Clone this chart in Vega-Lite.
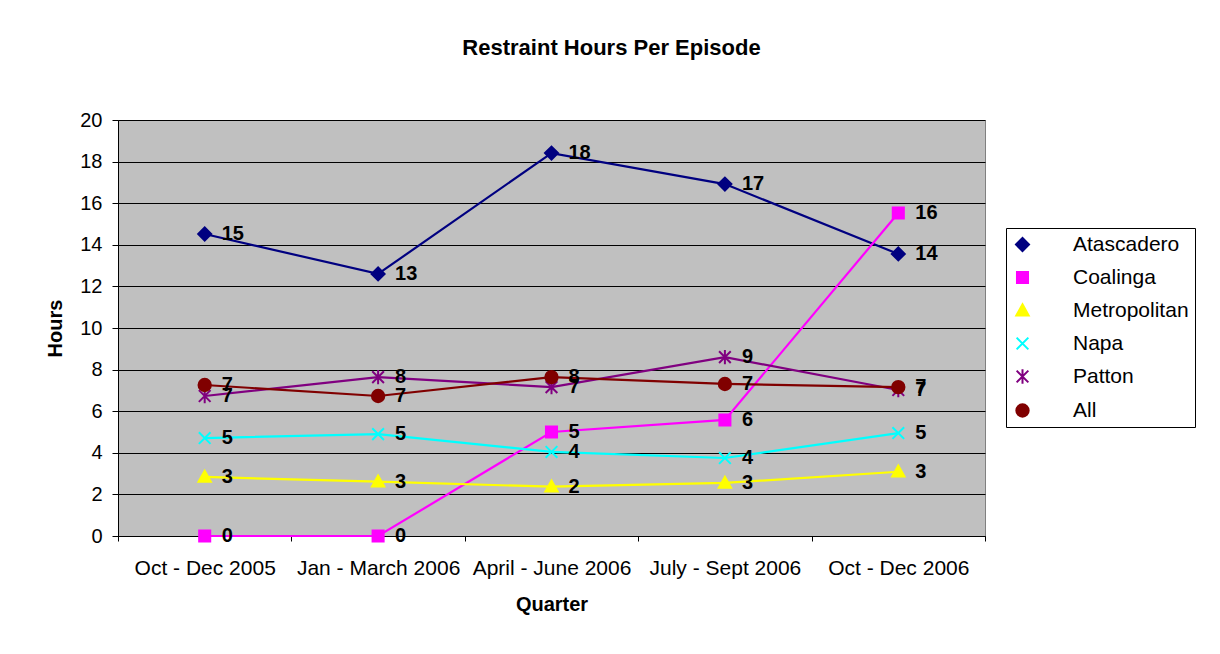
{
  "$schema": "https://vega.github.io/schema/vega-lite/v6.json",
  "autosize": "none",
  "width": 867,
  "height": 416,
  "padding": {"left": 118, "top": 120, "right": 235, "bottom": 118},
  "background": "white",
  "title": {
    "text": "Restraint Hours Per Episode",
    "fontSize": 22,
    "fontWeight": "bold",
    "font": "Liberation Sans",
    "color": "black",
    "anchor": "middle",
    "frame": "group",
    "dx": 60,
    "offset": 50
  },
  "config": {
    "font": "Liberation Sans",
    "view": {"fill": "#C0C0C0", "stroke": "#808080", "strokeWidth": 1}
  },
  "data": {
    "values": [
      {"quarter": "Oct - Dec 2005", "series": "Atascadero", "hours": 14.52},
      {"quarter": "Jan - March 2006", "series": "Atascadero", "hours": 12.6},
      {"quarter": "April - June 2006", "series": "Atascadero", "hours": 18.41},
      {"quarter": "July - Sept 2006", "series": "Atascadero", "hours": 16.92},
      {"quarter": "Oct - Dec 2006", "series": "Atascadero", "hours": 13.56},
      {"quarter": "Oct - Dec 2005", "series": "Coalinga", "hours": 0},
      {"quarter": "Jan - March 2006", "series": "Coalinga", "hours": 0},
      {"quarter": "April - June 2006", "series": "Coalinga", "hours": 5.0},
      {"quarter": "July - Sept 2006", "series": "Coalinga", "hours": 5.58},
      {"quarter": "Oct - Dec 2006", "series": "Coalinga", "hours": 15.53},
      {"quarter": "Oct - Dec 2005", "series": "Metropolitan", "hours": 2.84},
      {"quarter": "Jan - March 2006", "series": "Metropolitan", "hours": 2.61},
      {"quarter": "April - June 2006", "series": "Metropolitan", "hours": 2.37},
      {"quarter": "July - Sept 2006", "series": "Metropolitan", "hours": 2.55},
      {"quarter": "Oct - Dec 2006", "series": "Metropolitan", "hours": 3.09},
      {"quarter": "Oct - Dec 2005", "series": "Napa", "hours": 4.71},
      {"quarter": "Jan - March 2006", "series": "Napa", "hours": 4.9},
      {"quarter": "April - June 2006", "series": "Napa", "hours": 4.04},
      {"quarter": "July - Sept 2006", "series": "Napa", "hours": 3.75},
      {"quarter": "Oct - Dec 2006", "series": "Napa", "hours": 4.95},
      {"quarter": "Oct - Dec 2005", "series": "Patton", "hours": 6.73},
      {"quarter": "Jan - March 2006", "series": "Patton", "hours": 7.64},
      {"quarter": "April - June 2006", "series": "Patton", "hours": 7.16},
      {"quarter": "July - Sept 2006", "series": "Patton", "hours": 8.6},
      {"quarter": "Oct - Dec 2006", "series": "Patton", "hours": 7.02},
      {"quarter": "Oct - Dec 2005", "series": "All", "hours": 7.26},
      {"quarter": "Jan - March 2006", "series": "All", "hours": 6.73},
      {"quarter": "April - June 2006", "series": "All", "hours": 7.64},
      {"quarter": "July - Sept 2006", "series": "All", "hours": 7.31},
      {"quarter": "Oct - Dec 2006", "series": "All", "hours": 7.16}
    ]
  },
  "encoding": {
    "x": {
      "field": "quarter",
      "type": "nominal",
      "sort": null,
      "scale": {
        "type": "band",
        "domain": ["Oct - Dec 2005", "Jan - March 2006", "April - June 2006", "July - Sept 2006", "Oct - Dec 2006"],
        "paddingInner": 0,
        "paddingOuter": 0
      },
      "axis": {
        "title": "Quarter",
        "titleFontSize": 20,
        "titleFontWeight": "bold",
        "titleColor": "black",
        "titlePadding": 16,
        "labelAngle": 0,
        "labelFontSize": 21,
        "labelColor": "black",
        "labelPadding": 16,
        "tickBand": "extent",
        "tickSize": 5,
        "tickColor": "black",
        "domainColor": "black",
        "grid": false
      }
    },
    "y": {
      "field": "hours",
      "type": "quantitative",
      "scale": {"domain": [0, 20], "nice": false},
      "axis": {
        "title": "Hours",
        "titleFontSize": 20,
        "titleFontWeight": "bold",
        "titleColor": "black",
        "titlePadding": 14,
        "values": [0, 2, 4, 6, 8, 10, 12, 14, 16, 18, 20],
        "labelFontSize": 20,
        "labelColor": "black",
        "labelPadding": 10,
        "tickSize": 6,
        "tickColor": "black",
        "domainColor": "black",
        "grid": true,
        "gridColor": "black",
        "gridWidth": 1
      }
    },
    "color": {
      "field": "series",
      "type": "nominal",
      "scale": {
        "domain": ["Atascadero", "Coalinga", "Metropolitan", "Napa", "Patton", "All"],
        "range": ["#000080", "#FF00FF", "#FFFF00", "#00FFFF", "#800080", "#800000"]
      },
      "legend": {
        "title": null,
        "orient": "none",
        "legendX": 888,
        "legendY": 108,
        "padding": 6,
        "strokeColor": "black",
        "fillColor": "white",
        "labelFontSize": 21,
        "labelColor": "black",
        "labelFont": "Liberation Sans",
        "rowPadding": 11,
        "labelOffset": 40,
        "symbolSize": 169,
        "symbolStrokeWidth": 2,
        "symbolOpacity": 1,
        "encode": {
          "symbols": {
            "update": {
              "shape": {"signal": "({'Atascadero':'M-1.54,0H7.08M1.77,0L2.77,-1L3.77,0L2.77,1Z','Coalinga':'M-1.54,0H7.08M1.92,-0.85H3.62V0.85H1.92Z','Metropolitan':'M-1.54,0H7.08M2.77,-0.95L3.72,0.75L1.82,0.75Z','Napa':'M-1.54,0H7.08M1.87,-0.9L3.67,0.9M1.87,0.9L3.67,-0.9','Patton':'M-1.54,0H7.08M1.87,-0.9L3.67,0.9M1.87,0.9L3.67,-0.9M2.77,-1.1V1.1','All':'M-1.54,0H7.08M3.72,0A0.95,0.95,0,1,1,1.82,0A0.95,0.95,0,1,1,3.72,0Z'})[datum.value]"}
            }
          }
        }
      }
    }
  },
  "layer": [
    {
      "mark": {"type": "line", "strokeWidth": 2.2}
    },
    {
      "mark": {"type": "point", "filled": true, "size": 169, "strokeWidth": 2, "opacity": 1},
      "encoding": {
        "stroke": {
          "field": "series",
          "type": "nominal",
          "scale": {
            "domain": ["Atascadero", "Coalinga", "Metropolitan", "Napa", "Patton", "All"],
            "range": ["#000080", "#FF00FF", "#FFFF00", "#00FFFF", "#800080", "#800000"]
          }
        },
        "shape": {
          "field": "series",
          "type": "nominal",
          "scale": {
            "domain": ["Atascadero", "Coalinga", "Metropolitan", "Napa", "Patton", "All"],
            "range": [
              "M-1,0L0,-1L1,0L0,1Z",
              "M-0.85,-0.85H0.85V0.85H-0.85Z",
              "M0,-0.95L0.95,0.75L-0.95,0.75Z",
              "M-0.9,-0.9L0.9,0.9M-0.9,0.9L0.9,-0.9",
              "M-0.9,-0.9L0.9,0.9M-0.9,0.9L0.9,-0.9M0,-1.1V1.1",
              "M0.95,0A0.95,0.95,0,1,1,-0.95,0A0.95,0.95,0,1,1,0.95,0Z"
            ]
          },
          "legend": null
        }
      }
    },
    {
      "mark": {"type": "text", "align": "left", "baseline": "middle", "dx": 17, "fontSize": 20, "fontWeight": "bold"},
      "encoding": {
        "text": {"field": "hours", "type": "quantitative", "format": ".0f"},
        "color": {"value": "black"}
      }
    }
  ]
}
